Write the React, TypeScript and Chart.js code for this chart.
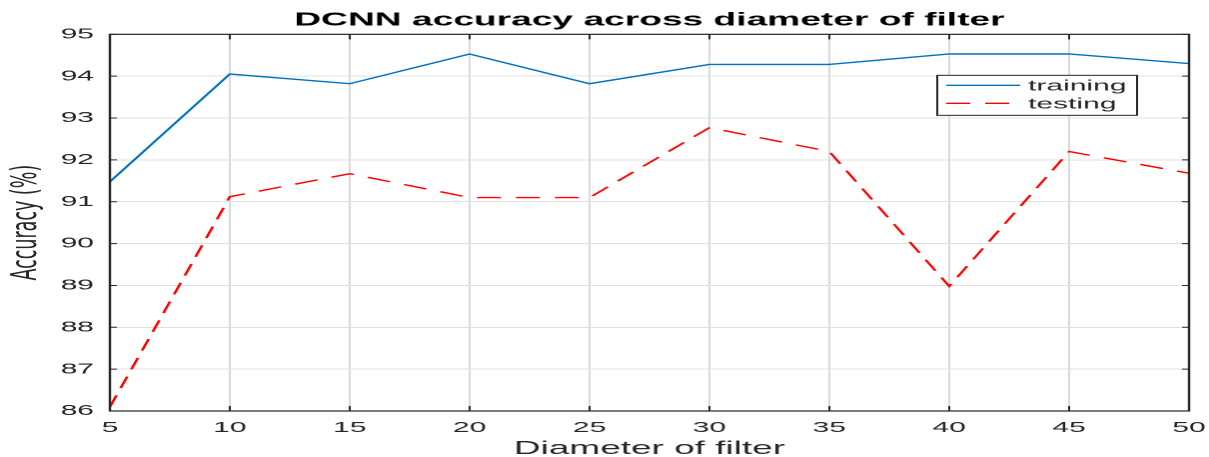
import React, { useEffect, useRef } from "react";
import { Chart, registerables } from "chart.js";

Chart.register(...registerables);

// ---- data ----
const diameters = [5, 10, 15, 20, 25, 30, 35, 40, 45, 50];
const trainingAccuracy = [91.48, 94.05, 93.82, 94.53, 93.82, 94.28, 94.28, 94.53, 94.53, 94.3];
const testingAccuracy = [86.1, 91.12, 91.67, 91.1, 91.1, 92.77, 92.2, 88.98, 92.2, 91.68];
const xTickValues = [5, 10, 15, 20, 25, 30, 35, 40, 45, 50];
const yTickValues = [86, 87, 88, 89, 90, 91, 92, 93, 94, 95];
const seriesLabels = ["training", "testing"];
const chartTitle = "DCNN accuracy across diameter of filter";
const xAxisTitle = "Diameter of filter";
const yAxisTitle = "Accuracy (%)";

// ---- layout / style ----
const OUT_W = 1209;
const OUT_H = 457;
const INNER_W = 605;
const STRETCH = OUT_W / INNER_W;
const FONT = "'Liberation Sans', Arial, Helvetica, sans-serif";
const AXIS_COLOR = "#262626";

const boxPlugin = {
  id: "matlabBox",
  afterDatasetsDraw(chart: any) {
    const { ctx, chartArea: a, scales } = chart;
    ctx.save();
    ctx.strokeStyle = AXIS_COLOR;
    ctx.lineWidth = 1;
    ctx.setLineDash([]);
    ctx.beginPath();
    scales.x.ticks.forEach((t: any) => {
      const px = scales.x.getPixelForValue(t.value);
      ctx.moveTo(px, a.bottom);
      ctx.lineTo(px, a.bottom - 5);
      ctx.moveTo(px, a.top);
      ctx.lineTo(px, a.top + 5);
    });
    scales.y.ticks.forEach((t: any) => {
      const py = scales.y.getPixelForValue(t.value);
      ctx.moveTo(a.left, py);
      ctx.lineTo(a.left + 3.5, py);
      ctx.moveTo(a.right, py);
      ctx.lineTo(a.right - 3.5, py);
    });
    ctx.stroke();
    ctx.lineWidth = 1.2;
    ctx.strokeRect(a.left, a.top, a.right - a.left, a.bottom - a.top);
    ctx.restore();
  },
};

const legendPlugin = {
  id: "matlabLegend",
  afterDraw(chart: any) {
    const { ctx, chartArea: a } = chart;
    const w = 100;
    const h = 40;
    const x0 = a.right - 26 - w;
    const y0 = a.top + 41;
    ctx.save();
    ctx.fillStyle = "#ffffff";
    ctx.fillRect(x0, y0, w, h);
    ctx.strokeStyle = AXIS_COLOR;
    ctx.lineWidth = 1;
    ctx.setLineDash([]);
    ctx.strokeRect(x0, y0, w, h);
    chart.data.datasets.forEach((ds: any, i: number) => {
      const cy = y0 + 10 + i * 18;
      ctx.beginPath();
      ctx.setLineDash(ds.borderDash || []);
      ctx.strokeStyle = ds.borderColor;
      ctx.lineWidth = ds.borderWidth;
      ctx.moveTo(x0 + 4.5, cy);
      ctx.lineTo(x0 + 41.5, cy);
      ctx.stroke();
      ctx.setLineDash([]);
      ctx.fillStyle = AXIS_COLOR;
      ctx.font = `15px ${FONT}`;
      ctx.textBaseline = "middle";
      ctx.textAlign = "left";
      ctx.fillText(ds.label, x0 + 45.5, cy + 1);
    });
    ctx.restore();
  },
};

export default function App() {
  const canvasRef = useRef<HTMLCanvasElement | null>(null);

  useEffect(() => {
    const canvas = canvasRef.current;
    if (!canvas) return;
    const chart = new Chart(canvas, {
      type: "line",
      data: {
        datasets: [
          {
            label: seriesLabels[0],
            data: diameters.map((d, i) => ({ x: d, y: trainingAccuracy[i] })),
            borderColor: "#0072BD",
            backgroundColor: "#0072BD",
            borderWidth: 1.4,
            pointRadius: 0,
            fill: false,
            tension: 0,
          },
          {
            label: seriesLabels[1],
            data: diameters.map((d, i) => ({ x: d, y: testingAccuracy[i] })),
            borderColor: "#FF0000",
            backgroundColor: "#FF0000",
            borderWidth: 1.4,
            borderDash: [12, 7.5],
            pointRadius: 0,
            fill: false,
            tension: 0,
          },
        ],
      },
      options: {
        responsive: false,
        animation: false,
        devicePixelRatio: 2,
        layout: { padding: { left: 0, right: 10, top: 0, bottom: 0 } },
        plugins: {
          legend: { display: false },
          tooltip: { enabled: false },
          title: {
            display: true,
            text: chartTitle,
            fullSize: false,
            color: "#000000",
            font: { family: FONT, size: 18.6, weight: "bold", lineHeight: 1.2 },
            padding: { top: 9, bottom: 3 },
          },
        },
        scales: {
          x: {
            type: "linear",
            min: 5,
            max: 50,
            afterBuildTicks: (scale: any) => {
              scale.ticks = xTickValues.map((v) => ({ value: v }));
            },
            afterFit: (scale: any) => {
              scale.height = 46;
              scale.paddingLeft = 0;
              scale.paddingRight = 0;
            },
            grid: { color: "#d9d9d9", lineWidth: 1, drawTicks: false },
            border: { display: false },
            ticks: {
              color: AXIS_COLOR,
              padding: 8,
              maxRotation: 0,
              font: { family: FONT, size: 15 },
            },
            title: {
              display: true,
              text: xAxisTitle,
              color: AXIS_COLOR,
              font: { family: FONT, size: 18.5, lineHeight: 0.9 },
              padding: { top: 0, bottom: 0 },
            },
          },
          y: {
            type: "linear",
            min: 86,
            max: 95,
            afterBuildTicks: (scale: any) => {
              scale.ticks = yTickValues.map((v) => ({ value: v }));
            },
            afterFit: (scale: any) => {
              scale.width = 55;
            },
            grid: { color: "#e0e0e0", lineWidth: 1, drawTicks: false },
            border: { display: false },
            ticks: {
              color: AXIS_COLOR,
              padding: 8,
              font: { family: FONT, size: 15 },
            },
            title: {
              display: true,
              text: yAxisTitle,
              color: AXIS_COLOR,
              font: { family: "'DejaVu Sans', sans-serif", size: 17.5, lineHeight: 1.2 },
              padding: { top: 3, bottom: 0 },
            },
          },
        },
      },
      plugins: [boxPlugin, legendPlugin],
    } as any);
    return () => chart.destroy();
  }, []);

  return (
    <div
      style={{
        position: "absolute",
        left: 0,
        top: 0,
        width: OUT_W,
        height: OUT_H,
        overflow: "hidden",
        background: "#ffffff",
      }}
    >
      <div
        style={{
          width: INNER_W,
          height: OUT_H,
          transform: `scaleX(${STRETCH})`,
          transformOrigin: "0 0",
        }}
      >
        <canvas
          ref={canvasRef}
          width={INNER_W}
          height={OUT_H}
          style={{ display: "block", width: INNER_W, height: OUT_H }}
        />
      </div>
    </div>
  );
}
